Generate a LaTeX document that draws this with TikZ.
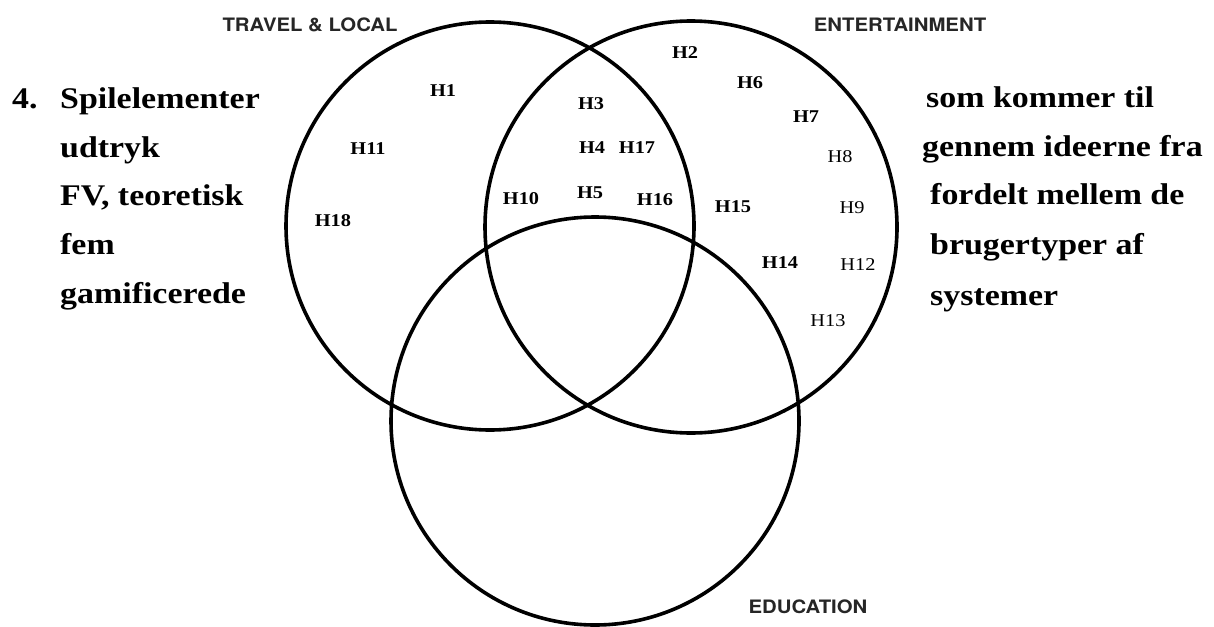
\documentclass[tikz,border=0pt]{standalone}
\usepackage{fontspec}
\setmainfont[FakeStretch=1.13]{Liberation Serif}
\newfontfamily\headfont[FakeStretch=1.1]{TeX Gyre Heros}
\definecolor{headgray}{HTML}{262626}
\begin{document}
\begin{tikzpicture}[x=1pt,y=-1pt,
  ring/.style={draw=black,line width=3.6pt},
  bigtxt/.style={anchor=base west,inner sep=0pt,font=\fontsize{30}{30}\selectfont\bfseries},
  setname/.style={anchor=center,inner sep=0pt,text=headgray,font=\fontsize{18.5}{18.5}\selectfont\headfont\bfseries},
  hlab/.style={anchor=center,inner sep=0pt,font=\fontsize{18}{18}\selectfont\bfseries},
  hlabthin/.style={anchor=center,inner sep=0pt,font=\fontsize{18}{18}\selectfont}]
\useasboundingbox (0,0) rectangle (1214,626);

% the three sets
\draw[ring] (490,226) circle[radius=204];
\draw[ring] (691,227) circle[radius=206];
\draw[ring] (595,421) circle[radius=204];

% set names
\node[setname] (travel) at (310,25) {TRAVEL \& LOCAL};
\node[setname] (entertain) at (900,25) {ENTERTAINMENT};
\node[setname] (educ) at (808,607) {EDUCATION};

% caption, left column
\node[bigtxt] (num) at (12,108) {4.};
\node[bigtxt] (l1) at (60,108) {Spilelementer};
\node[bigtxt] (l2) at (60,157) {udtryk};
\node[bigtxt] (l3) at (60,205) {FV, teoretisk};
\node[bigtxt] (l4) at (60,254) {fem};
\node[bigtxt] (l5) at (60,303) {gamificerede};

% caption, right column
\node[bigtxt] (r1) at (926,107) {som kommer til};
\node[bigtxt] (r2) at (922,156) {gennem ideerne fra};
\node[bigtxt] (r3) at (930,204) {fordelt mellem de};
\node[bigtxt] (r4) at (930,254) {brugertyper af};
\node[bigtxt] (r5) at (930,305) {systemer};

% elements placed in the sets
\node[hlab] (h1) at (443,91) {H1};
\node[hlab] (h2) at (685,53) {H2};
\node[hlab] (h3) at (591,104) {H3};
\node[hlab] (h4) at (592,148) {H4};
\node[hlab] (h5) at (590,193) {H5};
\node[hlab] (h6) at (750,83) {H6};
\node[hlab] (h7) at (806,117) {H7};
\node[hlabthin] (h8) at (840,157) {H8};
\node[hlabthin] (h9) at (852,208) {H9};
\node[hlab] (h10) at (521,199) {H10};
\node[hlab] (h11) at (368,149) {H11};
\node[hlabthin] (h12) at (858,265) {H12};
\node[hlabthin] (h13) at (828,321) {H13};
\node[hlab] (h14) at (780,263) {H14};
\node[hlab] (h15) at (733,207) {H15};
\node[hlab] (h16) at (655,200) {H16};
\node[hlab] (h17) at (637,148) {H17};
\node[hlab] (h18) at (333,221) {H18};
\end{tikzpicture}
\end{document}
